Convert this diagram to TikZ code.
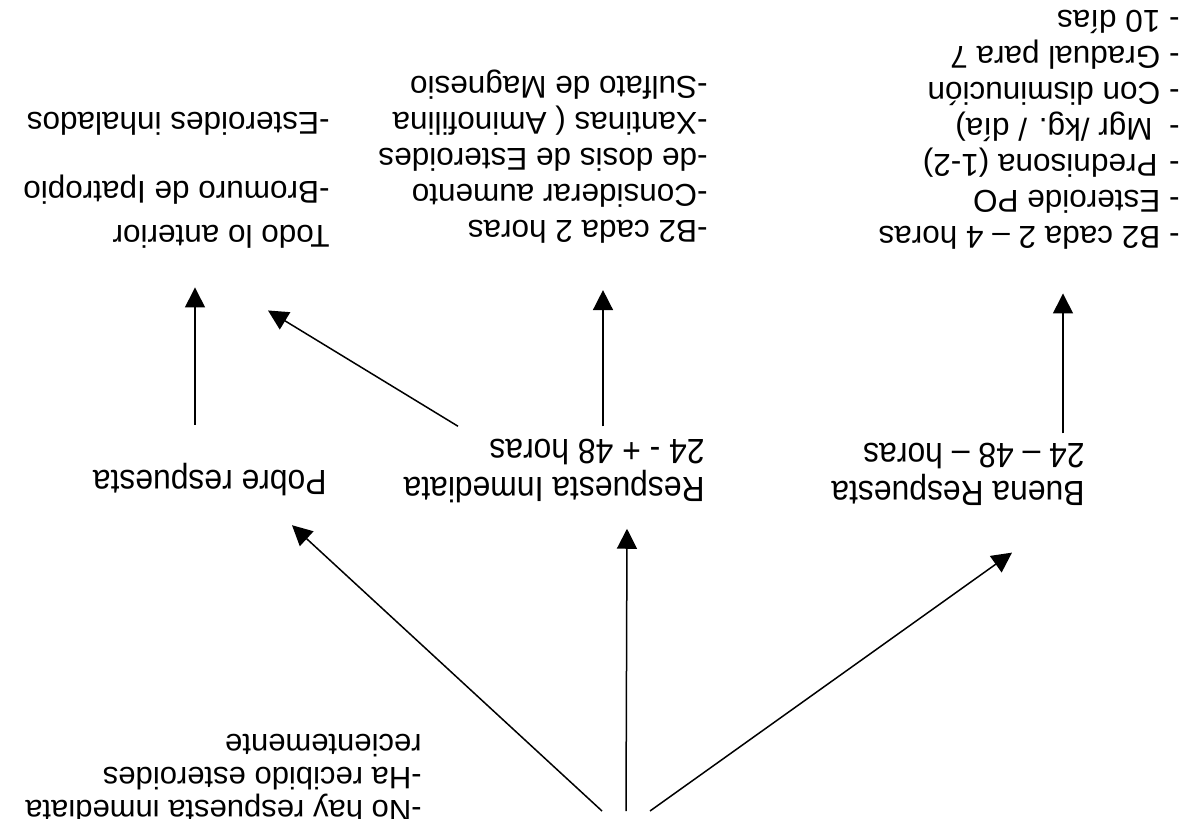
\documentclass[tikz,border=0pt]{standalone}
\usepackage{fontspec}
\setmainfont{Liberation Sans}
\newfontfamily\narrowfont[FakeStretch=0.91]{Liberation Sans}
\usetikzlibrary{arrows.meta}

\begin{document}
\begin{tikzpicture}[x=0.5pt, y=-0.5pt,
  arr/.style={-{Triangle[length=10pt,width=10pt]}, line width=0.75pt},
  lvl/.style={rotate=180, anchor=west, align=left, inner sep=0pt,
    font=\narrowfont\fontsize{17.5}{19}\selectfont},
  plan/.style={rotate=180, anchor=west, align=left, inner sep=0pt,
    font=\fontsize{15.75}{18}\selectfont}]
  \clip (0,0) rectangle (1201,819);

  % Start (cut off at the edge)
  \coordinate (src) at (626,811);
  \node (nohay) at (422,779) [plan, font=\fontsize{15.5}{16.5}\selectfont]
    {-No hay respuesta inmediata\\-Ha recibido esteroides\\recientemente};

  % First level
  \node (buena) at (1085,474) [lvl] {Buena Respuesta\\24 – 48 – horas};
  \node (resp) at (705,471.5) [lvl] {Respuesta Inmediata\\24 - + 48 horas};
  \node (pobre) at (327,479.5) [lvl] {Pobre respuesta};

  % Second level
  \node (colC) at (1180,129.5) [plan] {- B2 cada 2 – 4 horas\\- Esteroide PO\\-\hspace{5.8pt}Prednisona (1-2)\\-\hspace{8.3pt}Mgr /kg. / día)\\- Con disminución\\- Gradual para 7\\- 10 días};
  \node (colB) at (708,157) [plan] {-B2 cada 2 horas\\-Considerar aumento\\-de dosis de Esteroides\\-Xantinas ( Aminofilina\\-Sulfato de Magnesio};
  \node (colA) at (330,180.5) [plan] {Todo lo anterior\\[4pt]-Bromuro de Ipatropio\\[16.5pt]-Esteroides inhalados};

  % Arrows
  \draw[arr] ([xshift=12pt]src) -- ([xshift=-36.5pt,yshift=-23.5pt]buena.north west);
  \draw[arr] (src) -- ([xshift=-39pt,yshift=-12.5pt]resp.north west);
  \draw[arr] ([xshift=-12pt]src) -- ([xshift=-17.5pt,yshift=-14.5pt]pobre.north west);

  \draw[arr, shorten >=22pt] ([xshift=-11pt,yshift=4.5pt]buena.south west) -- ([xshift=-11pt]buena.south west |- colC.north west);
  \draw[arr, shorten >=23pt] ([xshift=-51pt,yshift=6.5pt]resp.south west) -- ([xshift=-51pt]resp.south west |- colB.north west);
  \draw[arr] ([xshift=-123.5pt,yshift=6.5pt]resp.south west) -- ([xshift=-31pt,yshift=-30.75pt]colA.north west);
  \draw[arr, shorten >=19.25pt] ([xshift=-66pt,yshift=19pt]pobre.south west) -- ([xshift=-66pt]pobre.south west |- colA.north west);

\end{tikzpicture}
\end{document}
